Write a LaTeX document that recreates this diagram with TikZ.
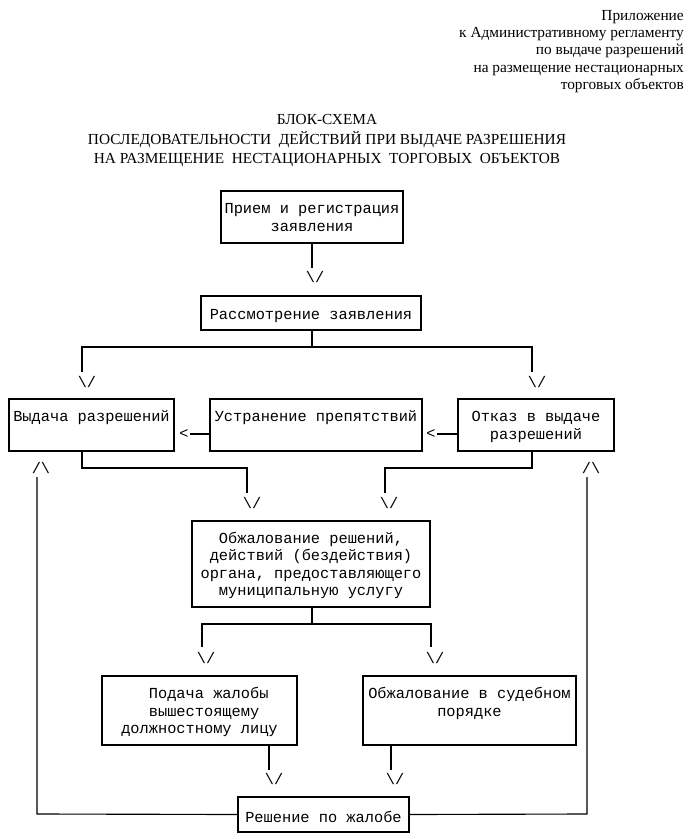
\documentclass[tikz,border=0pt]{standalone}
\usepackage{fontspec}
\setmainfont{Liberation Serif}
\newfontfamily\monof{Liberation Mono}
\newcommand\tstr{\rule{0pt}{12.2pt}}
\begin{document}
\begin{tikzpicture}[x=0.75pt,y=-0.75pt,
  box/.style={draw, line width=0.85pt, inner sep=0pt, align=center,
    font=\monof\fontsize{11.5}{13.1}\selectfont},
  arr/.style={inner sep=0pt, font=\monof\fontsize{11.5}{13.1}\selectfont},
  ln/.style={line width=0.85pt},
  hdr/.style={inner sep=0pt, anchor=base east, font=\fontsize{11.5}{13}\selectfont},
  ttl/.style={inner sep=0pt, anchor=base, font=\fontsize{11.5}{13}\selectfont}]
\useasboundingbox (0,0) rectangle (687,839);
% header
\node[hdr] (h1) at (684,20.5) {Приложение};
\node[hdr] (h2) at (684,37.5) {к Административному регламенту};
\node[hdr] (h3) at (684,54.5) {по выдаче разрешений};
\node[hdr] (h4) at (684,72) {на размещение нестационарных};
\node[hdr] (h5) at (684,89) {торговых объектов};
% title
\node[ttl] (t1) at (327,124.5) {БЛОК-СХЕМА};
\node[ttl] (t2) at (327,144) {ПОСЛЕДОВАТЕЛЬНОСТИ\ \ ДЕЙСТВИЙ ПРИ ВЫДАЧЕ РАЗРЕШЕНИЯ};
\node[ttl] (t3) at (327,163.5) {НА РАЗМЕЩЕНИЕ\ \ НЕСТАЦИОНАРНЫХ\ \ ТОРГОВЫХ\ \ ОБЪЕКТОВ};
% boxes
\node[box, minimum width=136.5pt, minimum height=39pt] (b1) at (312,217)
  {\tstr Прием и регистрация\\\strut заявления};
\node[box, minimum width=165pt, minimum height=25.5pt] (b2) at (311,313)
  {\tstr Рассмотрение заявления};
\node[box, minimum width=123.75pt, minimum height=39pt] (b3) at (91.5,425)
  {\tstr Выдача разрешений\\\strut};
\node[box, minimum width=159pt, minimum height=39pt] (b4) at (316,425)
  {\tstr Устранение препятствий\\\strut};
\node[box, minimum width=117pt, minimum height=39pt] (b5) at (536,425)
  {\tstr Отказ в выдаче\\\strut разрешений};
\node[box, minimum width=178.5pt, minimum height=64.5pt] (b6) at (311,564)
  {\tstr Обжалование решений,\\\strut действий (бездействия)\\\strut органа, предоставляющего\\\strut муниципальную услугу};
\node[box, minimum width=146.25pt, minimum height=51.75pt, align=left] (b7) at (199.5,710.5)
  {\tstr\phantom{ООО}Подача жалобы\\\strut\phantom{ООО}вышестоящему\\\strut должностному лицу};
\node[box, minimum width=159.75pt, minimum height=51.75pt] (b8) at (469.5,710.5)
  {\tstr Обжалование в судебном\\\strut порядке\\\strut};
\node[box, minimum width=128.25pt, minimum height=26.25pt] (b9) at (323.5,814.5)
  {\tstr Решение по жалобе};
% arrow heads (text)
\node[arr] (a1) at (315,277) {\textbackslash/};
\node[arr] (a2) at (87,382) {\textbackslash/};
\node[arr] (a3) at (537,382) {\textbackslash/};
\node[arr] (a4) at (184,434) {<};
\node[arr] (a5) at (431,434) {<};
\node[arr] (a6) at (252,503) {\textbackslash/};
\node[arr] (a7) at (389,503) {\textbackslash/};
\node[arr] (a8) at (41,468) {/\textbackslash};
\node[arr] (a9) at (591,468) {/\textbackslash};
\node[arr] (a10) at (206,658) {\textbackslash/};
\node[arr] (a11) at (435,658) {\textbackslash/};
\node[arr] (a12) at (274,779) {\textbackslash/};
\node[arr] (a13) at (395,779) {\textbackslash/};
% connector end points
\coordinate (c1) at (312,268);
\coordinate (s2) at (312,347);
\coordinate (l2) at (82,347);
\coordinate (r2) at (532,347);
\coordinate (l2e) at (82,372);
\coordinate (r2e) at (532,372);
\coordinate (c4) at (190,434);
\coordinate (c5) at (437,434);
\coordinate (p3) at (82,468);
\coordinate (q3) at (247,468);
\coordinate (e3) at (247,493);
\coordinate (p5) at (532,468);
\coordinate (q5) at (385,468);
\coordinate (e5) at (385,493);
\coordinate (ul) at (37,477);
\coordinate (bl) at (37,814);
\coordinate (ur) at (587,477);
\coordinate (br) at (587,814);
\coordinate (s6) at (312,624);
\coordinate (l6) at (202,624);
\coordinate (r6) at (431,624);
\coordinate (l6e) at (202,647);
\coordinate (r6e) at (431,647);
\coordinate (e7) at (269,770);
\coordinate (e8) at (391,770);
% connectors
\draw[ln] (b1.south -| c1) -- (c1);
\draw[ln] (b2.south -| s2) -- (s2);
\draw[ln] (l2e) -- (l2) -- (r2) -- (r2e);
\draw[ln] (b4.west |- c4) -- (c4);
\draw[ln] (b5.west |- c5) -- (c5);
\draw[ln] (b3.south -| p3) -- (p3) -- (q3) -- (e3);
\draw[ln] (b5.south -| p5) -- (p5) -- (q5) -- (e5);
\draw[ln] (ul) -- (bl) -- (b9.west);
\draw[ln] (ur) -- (br) -- (b9.east);
\draw[ln] (b6.south -| s6) -- (s6);
\draw[ln] (l6e) -- (l6) -- (r6) -- (r6e);
\draw[ln] (b7.south -| e7) -- (e7);
\draw[ln] (b8.south -| e8) -- (e8);
\end{tikzpicture}
\end{document}
